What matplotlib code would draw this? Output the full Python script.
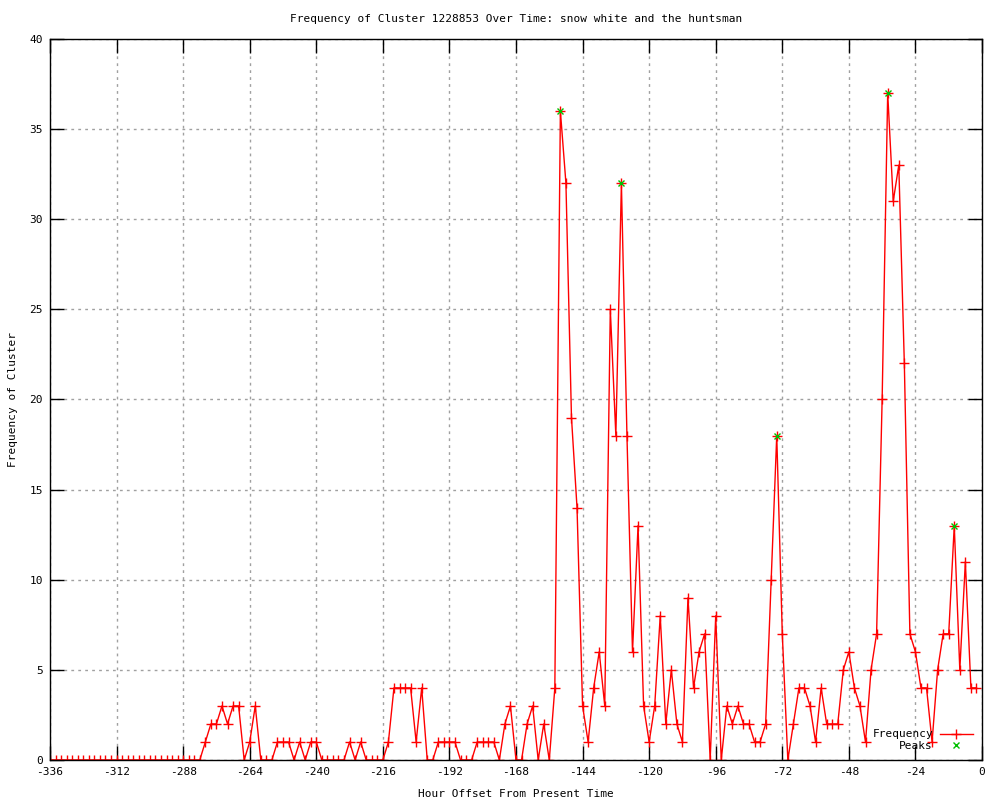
import matplotlib
matplotlib.use("Agg")
import matplotlib.pyplot as plt
import numpy as np

# hour offsets, one sample every 2 hours
hours = np.arange(-336, 0, 2)

freq = [
    0, 0, 0, 0, 0, 0, 0, 0, 0, 0, 0, 0, 0, 0,          # -336 .. -310
    0, 0, 0, 0, 0, 0, 0, 0, 0, 0, 0, 0, 0, 0,          # -308 .. -282
    1, 2, 2, 3, 2, 3, 3, 0, 1, 3, 0, 0, 0, 1,          # -280 .. -254
    1, 1, 0, 1, 0, 1, 1, 0, 0, 0, 0, 0, 1, 0,          # -252 .. -226
    1, 0, 0, 0, 0, 1, 4, 4, 4, 4, 1, 4, 0, 0,          # -224 .. -198
    1, 1, 1, 1, 0, 0, 0, 1, 1, 1, 1, 0, 2, 3,          # -196 .. -170
    0, 0, 2, 3, 0, 2, 0, 4, 36, 32, 19, 14, 3, 1,      # -168 .. -142
    4, 6, 3, 25, 18, 32, 18, 6, 13, 3, 1, 3, 8, 2,     # -140 .. -114
    5, 2, 1, 9, 4, 6, 7, 0, 8, 0, 3, 2, 3, 2,          # -112 .. -86
    2, 1, 1, 2, 10, 18, 7, 0, 2, 4, 4, 3, 1, 4,        # -84 .. -58
    2, 2, 2, 5, 6, 4, 3, 1, 5, 7, 20, 37, 31, 33,      # -56 .. -30
    22, 7, 6, 4, 4, 1, 5, 7, 7, 13, 5, 11, 4, 4,       # -28 .. -2
]

peak_hours = [-152, -130, -74, -34, -10]
peak_vals = [36, 32, 18, 37, 13]

xticks = list(range(-336, 1, 24))
yticks = list(range(0, 41, 5))

plt.rcParams['font.family'] = ['DejaVu Sans Mono']
plt.rcParams['font.size'] = 8
plt.rcParams['axes.unicode_minus'] = False

fig = plt.figure(figsize=(10, 8), dpi=100)
ax = fig.add_axes([0.05, 0.05, 0.932, 0.90125])

ax.plot(hours, freq, color='red', lw=1, marker='+', ms=6.5, mew=1,
        label='Frequency')
ax.plot(peak_hours, peak_vals, ls='none', color='#00c000', marker='x',
        ms=5, mew=1, label='Peaks')

ax.set_xlim(-336, 0)
ax.set_ylim(0, 40)
ax.set_xticks(xticks)
ax.set_yticks(yticks)
ax.tick_params(direction='in', length=10, width=1, top=True, right=True,
               labelsize=8, pad=5)
ax.grid(True, color='#a0a0a0', ls=(0, (2, 3)), lw=1)
for s in ax.spines.values():
    s.set_linewidth(1)

ax.set_title('Frequency of Cluster 1228853 Over Time: snow white and the huntsman',
             fontsize=8, pad=12)
ax.set_xlabel('Hour Offset From Present Time', fontsize=8, labelpad=9)
ax.set_ylabel('Frequency of Cluster', fontsize=8, labelpad=8)

ax.legend(loc='lower right', frameon=False, markerfirst=False, fontsize=8,
          handlelength=3, handletextpad=0.6, borderpad=0.3, labelspacing=0.15,
          bbox_to_anchor=(1.0, 0.0))

fig.savefig('out.png', dpi=100)
